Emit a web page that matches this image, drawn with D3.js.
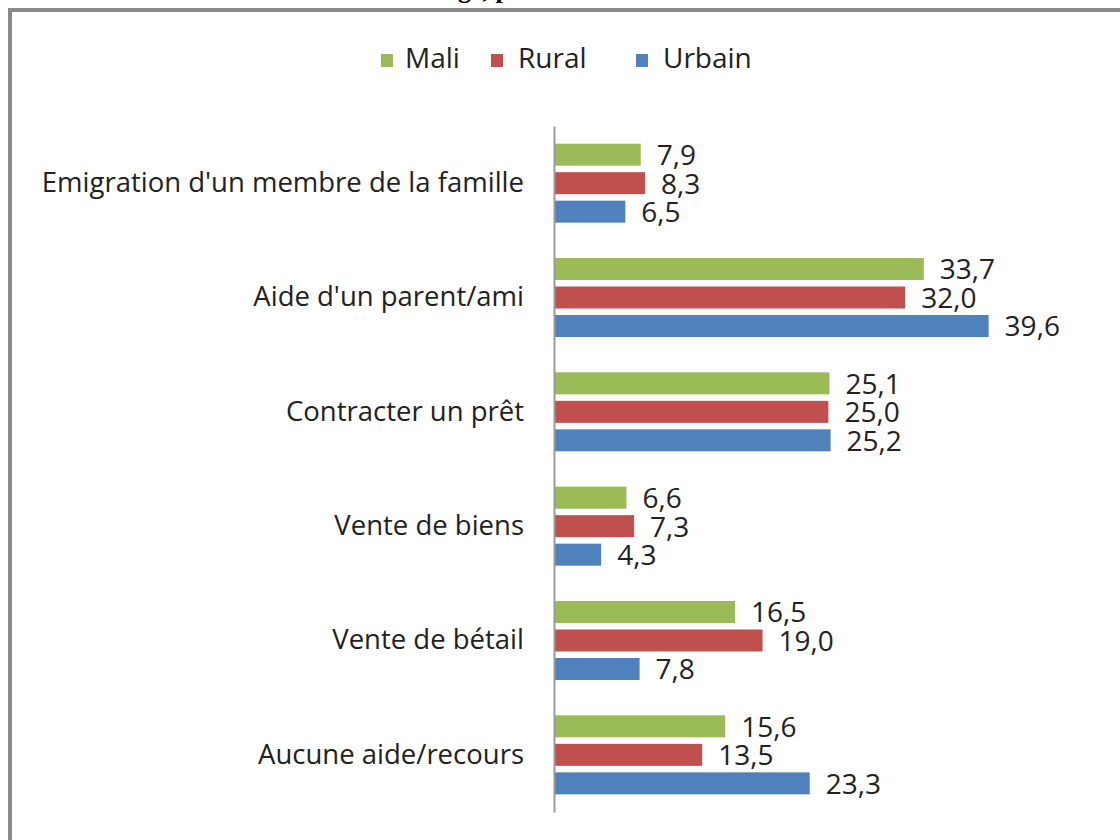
<!DOCTYPE html>
<html>
<head>
<meta charset="utf-8">
<script src="https://cdn.jsdelivr.net/npm/d3@7"></script>
<style>
  body { margin: 0; background: #fff; }
  svg { display: block; }
</style>
</head>
<body>
<div id="chart"></div>
<script>
// Data
var categories = ["Emigration d'un membre de la famille", "Aide d'un parent/ami",
  "Contracter un prêt", "Vente de biens", "Vente de bétail", "Aucune aide/recours"]
var seriesNames = ["Mali", "Rural", "Urbain"]
var mali = [7.9, 33.7, 25.1, 6.6, 16.5, 15.6]
var rural = [8.3, 32.0, 25.0, 7.3, 19.0, 13.5]
var urbain = [6.5, 39.6, 25.2, 4.3, 7.8, 23.3]
var colors = ["#9BBB59", "#C0504D", "#4F81BD"]

var width = 1120, height = 840
var font = "'Open Sans', Lato, sans-serif"

var svg = d3.select("#chart").append("svg")
  .attr("width", width)
  .attr("height", height)

// Frame (top + left visible)
svg.append("rect")
  .attr("x", 10).attr("y", 10)
  .attr("width", width + 20).attr("height", height + 20)
  .attr("fill", "none")
  .attr("stroke", "#8a8a8a")
  .attr("stroke-width", 4)

// Partial title cut off at the top
svg.append("text")
  .attr("x", 458).attr("y", -2)
  .attr("font-family", "'Liberation Serif', 'Times New Roman', serif")
  .attr("font-weight", "bold")
  .attr("font-size", 26)
  .attr("fill", "#000")
  .text("ge, p")

// Scales
var y = d3.scaleBand()
  .domain(categories)
  .range([126, 812])

var ySeries = d3.scaleBand()
  .domain(seriesNames)
  .range([0, y.bandwidth()])
  .paddingInner(0.228)
  .paddingOuter(0.62)

var x = d3.scaleLinear()
  .domain([0, 40])
  .range([554, 993])

var rows = categories.map(function (c, i) {
  return {cat: c, values: [mali[i], rural[i], urbain[i]]}
})

// Bars
var groups = svg.append("g").selectAll("g")
  .data(rows)
  .enter()
  .append("g")
  .attr("transform", function (d) { return "translate(0," + y(d.cat) + ")" })

groups.selectAll("rect")
  .data(function (d) { return d.values.map(function (v, j) { return {name: seriesNames[j], v: v, j: j} }) })
  .enter()
  .append("rect")
  .attr("x", x(0))
  .attr("y", function (d) { return ySeries(d.name) })
  .attr("width", function (d) { return x(d.v) - x(0) })
  .attr("height", ySeries.bandwidth())
  .attr("fill", function (d) { return colors[d.j] })

// Value labels
groups.selectAll("text")
  .data(function (d) { return d.values.map(function (v, j) { return {name: seriesNames[j], v: v, j: j} }) })
  .enter()
  .append("text")
  .attr("x", function (d) { return x(d.v) + 16 })
  .attr("y", function (d) { return ySeries(d.name) + ySeries.bandwidth() / 2 + 3 })
  .attr("dominant-baseline", "middle")
  .attr("font-family", font)
  .attr("font-size", 28)
  .attr("fill", "#222")
  .text(function (d) { return d.v.toFixed(1).replace(".", ",") })

// Vertical axis
var yAxis = svg.append("g")
  .attr("transform", "translate(" + x(0) + ",0)")
  .call(d3.axisLeft(y).tickSize(0).tickPadding(30))

yAxis.select(".domain")
  .attr("stroke", "#9a9a9a")
  .attr("stroke-width", 2)

yAxis.selectAll("text")
  .attr("font-family", font)
  .attr("font-size", 27.5)
  .attr("fill", "#222")

// Legend
var legendX = [381, 491, 636]
var legend = svg.append("g").selectAll("g")
  .data(seriesNames)
  .enter()
  .append("g")
  .attr("transform", function (d, i) { return "translate(" + legendX[i] + ",54)" })

legend.append("rect")
  .attr("width", 12).attr("height", 13)
  .attr("fill", function (d, i) { return colors[i] })

legend.append("text")
  .attr("x", function (d, i) { return i == 0 ? 24 : 27 })
  .attr("y", 7)
  .attr("dominant-baseline", "middle")
  .attr("font-family", font)
  .attr("font-size", 28)
  .attr("fill", "#222")
  .text(function (d) { return d })
</script>
</body>
</html>
